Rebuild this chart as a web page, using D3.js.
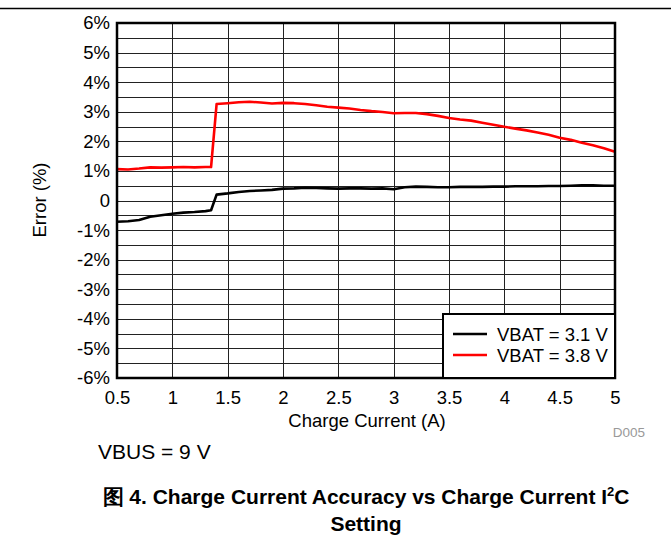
<!DOCTYPE html>
<html><head><meta charset="utf-8">
<script src="https://cdn.jsdelivr.net/npm/d3@7"></script>
<style>
body{margin:0;background:#fff;}
text{font-family:Arial,"Liberation Sans",sans-serif;}
</style></head>
<body>
<svg id="c" width="671" height="538"></svg>
<script>
const current = [0.5,0.6,0.7,0.8,0.9,1.0,1.1,1.2,1.3,1.35,1.4,1.5,1.6,1.7,1.8,1.9,2.0,2.1,2.2,2.3,2.4,2.5,2.6,2.7,2.8,2.9,3.0,3.1,3.2,3.3,3.4,3.5,3.6,3.7,3.8,3.9,4.0,4.1,4.2,4.3,4.4,4.5,4.6,4.7,4.8,4.9,5.0];
const vbat31 = [-0.72,-0.70,-0.66,-0.55,-0.50,-0.45,-0.41,-0.39,-0.36,-0.33,0.20,0.24,0.29,0.32,0.34,0.36,0.40,0.41,0.43,0.42,0.41,0.40,0.41,0.41,0.40,0.41,0.38,0.45,0.47,0.46,0.45,0.45,0.46,0.46,0.46,0.47,0.47,0.48,0.48,0.48,0.49,0.49,0.50,0.51,0.51,0.50,0.50];
const vbat38 = [1.06,1.05,1.08,1.12,1.11,1.12,1.13,1.12,1.13,1.13,3.26,3.29,3.32,3.34,3.31,3.28,3.30,3.29,3.26,3.22,3.17,3.14,3.11,3.06,3.02,2.99,2.95,2.96,2.96,2.92,2.86,2.79,2.74,2.70,2.63,2.56,2.49,2.43,2.37,2.30,2.22,2.12,2.05,1.95,1.87,1.77,1.65];
const seriesNames = ["VBAT = 3.1 V","VBAT = 3.8 V"];
const seriesColors = ["#000000","#ff0000"];
const xTicks = [0.5,1,1.5,2,2.5,3,3.5,4,4.5,5];
const yTicks = [-6,-5,-4,-3,-2,-1,0,1,2,3,4,5,6];

const svg = d3.select("#c");
const L=117, R=615, T=23, B=378;
const x = d3.scaleLinear().domain([0.5,5]).range([L,R]);
const y = d3.scaleLinear().domain([-6,6]).range([B,T]);

// top rule
svg.append("line").attr("x1",0).attr("x2",671).attr("y1",8.5).attr("y2",8.5).attr("stroke","#000").attr("stroke-width",1.5);

// grid
const g = svg.append("g");
d3.range(-6,6.01,0.5).forEach(v=>{
  g.append("line").attr("x1",L).attr("x2",R).attr("y1",Math.round(y(v))+0.5).attr("y2",Math.round(y(v))+0.5).attr("stroke","#222").attr("stroke-width",1);
});
xTicks.forEach(v=>{
  g.append("line").attr("y1",T).attr("y2",B).attr("x1",Math.round(x(v))+0.5).attr("x2",Math.round(x(v))+0.5).attr("stroke","#222").attr("stroke-width",1);
});

// axes labels via d3 axes
const yAxis = svg.append("g").attr("transform",`translate(${L},0)`)
  .call(d3.axisLeft(y).tickValues(yTicks).tickSize(0).tickPadding(7).tickFormat(d=>d===0?"0":d+"%"));
yAxis.select(".domain").remove();
yAxis.selectAll("text").attr("font-size",18.5).attr("fill","#000").attr("font-family","Arial, 'Liberation Sans', sans-serif");

const xAxis = svg.append("g").attr("transform",`translate(0,${B})`)
  .call(d3.axisBottom(x).tickValues(xTicks).tickSize(0).tickPadding(13).tickFormat(d=>String(d)));
xAxis.select(".domain").remove();
xAxis.selectAll("text").attr("font-size",18.5).attr("fill","#000").attr("font-family","Arial, 'Liberation Sans', sans-serif");

// lines
const line = d3.line().x((d,i)=>x(current[i])).y(d=>y(d));
[vbat31, vbat38].forEach((s,k)=>{
  svg.append("path").datum(s).attr("d",line).attr("fill","none")
    .attr("stroke",seriesColors[k]).attr("stroke-width",2.6).attr("stroke-linejoin","round");
});

// border
svg.append("rect").attr("x",L).attr("y",T).attr("width",R-L).attr("height",B-T)
  .attr("fill","none").attr("stroke","#000").attr("stroke-width",2.5);

// legend
const lg = svg.append("g");
lg.append("rect").attr("x",443).attr("y",314).attr("width",172).attr("height",64)
  .attr("fill","#fff").attr("stroke","#000").attr("stroke-width",2);
seriesNames.forEach((n,i)=>{
  const yy = 334 + i*21;
  lg.append("line").attr("x1",453).attr("x2",487).attr("y1",yy).attr("y2",yy).attr("stroke",seriesColors[i]).attr("stroke-width",2.6);
  lg.append("text").attr("x",497).attr("y",yy+6.5).attr("font-size",18.5).text(n);
});

// axis titles
svg.append("text").attr("x",367).attr("y",427).attr("text-anchor","middle").attr("font-size",18.5).text("Charge Current (A)");
svg.append("text").attr("transform","translate(46,200) rotate(-90)").attr("text-anchor","middle").attr("font-size",18.5).text("Error (%)");
svg.append("text").attr("x",645).attr("y",437).attr("text-anchor","end").attr("font-size",13.5).attr("fill","#999").text("D005");
svg.append("text").attr("x",98).attr("y",459).attr("font-size",21).text("VBUS = 9 V");

// caption
const cap = svg.append("text").attr("x",366).attr("y",504).attr("text-anchor","middle").attr("font-size",21).attr("font-weight","bold");
cap.append("tspan").text("图 4. Charge Current Accuracy vs Charge Current I");
cap.append("tspan").attr("font-size",13).attr("dy",-8).text("2");
cap.append("tspan").attr("dy",8).text("C");
svg.append("text").attr("x",366).attr("y",531).attr("text-anchor","middle").attr("font-size",21).attr("font-weight","bold").text("Setting");
</script>
</body></html>
